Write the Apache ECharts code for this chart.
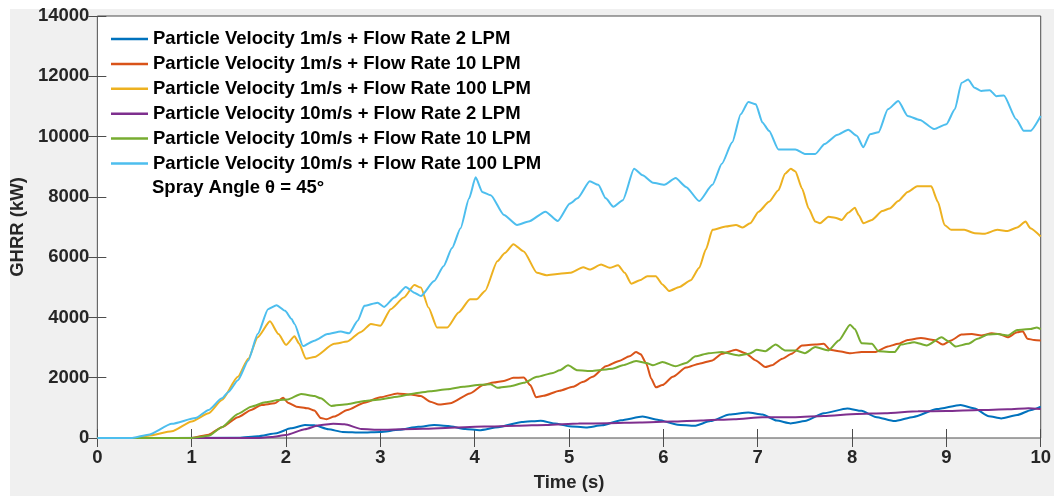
<!DOCTYPE html>
<html>
<head>
<meta charset="utf-8">
<title>GHRR</title>
<script src="https://cdn.jsdelivr.net/npm/echarts@6/dist/echarts.min.js"></script>
<style>
html,body{margin:0;padding:0;background:#fff;}
#chartmain{width:1054px;height:497px;}
</style>
</head>
<body>
<div id="chartmain"></div>
<script>
// 图例名称
var names = [
	'Particle Velocity 1m/s + Flow Rate 2 LPM',
	'Particle Velocity 1m/s + Flow Rate 10 LPM',
	'Particle Velocity 1m/s + Flow Rate 100 LPM',
	'Particle Velocity 10m/s + Flow Rate 2 LPM',
	'Particle Velocity 10m/s + Flow Rate 10 LPM',
	'Particle Velocity 10m/s + Flow Rate 100 LPM'
];
var colors = ['#0072BD','#D95319','#EDB120','#7E2F8E','#77AC30','#4DBEEE'];
var xTicks = [0,1,2,3,4,5,6,7,8,9,10];
var yTicks = [0,2000,4000,6000,8000,10000,12000,14000];

// [时间(s), GHRR(kW)]
var v1f2 = [[0,0],[1.5,5],[1.7,60],[1.9,160],[2.05,320],[2.2,430],[2.3,420],[2.45,290],[2.6,200],[2.8,180],[3.0,200],[3.2,270],[3.4,370],[3.57,430],[3.72,400],[3.9,300],[4.05,260],[4.25,360],[4.5,530],[4.7,575],[4.85,480],[5.0,390],[5.18,350],[5.35,420],[5.55,590],[5.78,710],[5.95,600],[6.15,440],[6.33,405],[6.5,560],[6.7,780],[6.9,845],[7.05,780],[7.2,580],[7.35,485],[7.5,560],[7.7,820],[7.95,980],[8.1,900],[8.25,700],[8.45,560],[8.65,700],[8.9,960],[9.15,1095],[9.3,980],[9.45,720],[9.58,650],[9.75,760],[9.9,930],[10,1040]];
var v1f10 = [[0,0],[1.0,0],[1.18,110],[1.32,360],[1.49,690],[1.63,930],[1.74,1095],[1.88,1150],[1.97,1335],[2.02,1170],[2.11,1040],[2.23,985],[2.3,910],[2.37,660],[2.43,625],[2.51,710],[2.65,930],[2.83,1170],[3.0,1350],[3.18,1480],[3.32,1445],[3.43,1390],[3.53,1205],[3.62,1110],[3.74,1150],[3.95,1480],[4.09,1755],[4.2,1840],[4.31,1895],[4.41,1995],[4.52,2005],[4.59,1755],[4.65,1350],[4.73,1400],[4.9,1570],[5.04,1700],[5.15,1865],[5.25,2030],[5.39,2380],[5.53,2555],[5.64,2710],[5.71,2850],[5.76,2775],[5.82,2465],[5.87,1975],[5.92,1680],[5.99,1755],[6.1,2030],[6.24,2335],[6.38,2465],[6.52,2575],[6.62,2795],[6.77,2925],[6.87,2815],[6.98,2575],[7.08,2355],[7.15,2410],[7.26,2630],[7.36,2795],[7.47,3070],[7.61,3100],[7.7,3125],[7.77,2925],[7.86,2880],[7.98,2815],[8.1,2850],[8.24,2850],[8.38,3035],[8.49,3125],[8.59,3255],[8.73,3320],[8.87,3255],[8.96,3100],[9.05,3235],[9.16,3430],[9.27,3450],[9.37,3400],[9.48,3475],[9.56,3450],[9.65,3340],[9.75,3505],[9.81,3540],[9.86,3290],[9.93,3255],[10,3235]];
var v1f100 = [[0,0],[0.4,0],[0.54,75],[0.79,220],[1.0,550],[1.18,820],[1.32,1260],[1.49,2030],[1.6,2630],[1.7,3340],[1.83,3870],[1.92,3450],[2.0,3090],[2.09,3375],[2.14,3125],[2.21,2630],[2.3,2685],[2.51,3125],[2.65,3200],[2.79,3510],[2.9,3780],[3.0,3725],[3.11,4275],[3.25,4660],[3.36,5075],[3.43,4990],[3.51,4330],[3.6,3670],[3.71,3670],[3.83,4165],[3.95,4600],[4.02,4600],[4.11,4880],[4.24,5865],[4.32,6140],[4.41,6430],[4.52,6190],[4.66,5480],[4.76,5400],[4.9,5450],[5.01,5480],[5.15,5665],[5.22,5590],[5.34,5755],[5.43,5645],[5.52,5730],[5.59,5480],[5.66,5120],[5.75,5230],[5.83,5370],[5.92,5370],[5.99,5095],[6.06,4875],[6.17,5010],[6.29,5230],[6.38,5645],[6.45,6250],[6.52,6905],[6.66,7015],[6.77,7070],[6.84,6980],[6.92,7125],[7.01,7510],[7.12,7835],[7.22,8220],[7.29,8770],[7.35,8930],[7.4,8845],[7.47,8275],[7.54,7615],[7.61,7180],[7.66,7125],[7.75,7340],[7.82,7310],[7.89,7235],[7.96,7475],[8.03,7640],[8.07,7400],[8.12,7125],[8.21,7235],[8.32,7530],[8.4,7615],[8.49,7860],[8.59,8165],[8.69,8350],[8.84,8350],[8.91,7835],[8.98,7070],[9.05,6905],[9.19,6905],[9.3,6795],[9.4,6775],[9.54,6905],[9.65,6870],[9.75,6980],[9.84,7180],[9.89,6960],[10,6685]];
var v10f2 = [[0,0],[1.7,0],[1.85,30],[2.0,100],[2.2,290],[2.35,420],[2.5,470],[2.62,455],[2.8,300],[3.0,270],[3.45,305],[3.8,350],[4.1,380],[4.45,405],[4.76,435],[5.1,480],[5.42,490],[5.75,515],[6.1,545],[6.4,580],[6.75,625],[7.05,690],[7.4,690],[7.7,730],[8.05,800],[8.35,820],[8.7,885],[9.0,895],[9.35,930],[9.65,950],[9.87,985],[10,960]];
var v10f10 = [[0,0],[1.0,0],[1.18,75],[1.32,360],[1.49,800],[1.63,1040],[1.78,1185],[1.92,1260],[2.02,1280],[2.16,1460],[2.3,1390],[2.37,1315],[2.48,1065],[2.65,1120],[2.83,1230],[3.0,1280],[3.18,1370],[3.36,1480],[3.53,1555],[3.71,1620],[3.88,1700],[4.06,1765],[4.17,1785],[4.24,1665],[4.38,1720],[4.52,1830],[4.66,2030],[4.83,2160],[4.9,2245],[4.99,2410],[5.09,2245],[5.25,2225],[5.46,2300],[5.57,2410],[5.71,2555],[5.82,2490],[5.89,2410],[5.99,2520],[6.13,2380],[6.24,2490],[6.34,2710],[6.48,2815],[6.62,2850],[6.8,2740],[6.91,2795],[6.99,2925],[7.08,2880],[7.19,3100],[7.29,2905],[7.4,2905],[7.5,2815],[7.61,3015],[7.75,2905],[7.86,3235],[7.98,3760],[8.03,3615],[8.1,3145],[8.21,3125],[8.28,2880],[8.45,2850],[8.52,3100],[8.66,3180],[8.79,3070],[8.95,3345],[9.02,3210],[9.1,3035],[9.23,3125],[9.33,3290],[9.44,3430],[9.54,3450],[9.65,3400],[9.75,3585],[9.89,3615],[9.96,3670],[10,3615]];
var v10f100 = [[0,0],[0.37,0],[0.54,110],[0.79,470],[1.04,660],[1.18,930],[1.32,1315],[1.39,1530],[1.49,1920],[1.6,2575],[1.7,3450],[1.81,4275],[1.9,4405],[1.99,4220],[2.06,3945],[2.09,3780],[2.18,3050],[2.3,3230],[2.44,3450],[2.58,3530],[2.67,3475],[2.76,3890],[2.83,4385],[2.97,4490],[3.04,4350],[3.15,4660],[3.27,5010],[3.36,4820],[3.43,4710],[3.57,5205],[3.67,5700],[3.76,6300],[3.85,6960],[3.94,7945],[4.01,8650],[4.08,8165],[4.17,8055],[4.31,7400],[4.45,7070],[4.57,7180],[4.75,7510],[4.88,7200],[5.01,7780],[5.09,7950],[5.22,8515],[5.31,8400],[5.39,7950],[5.47,7670],[5.57,7890],[5.69,8930],[5.78,8715],[5.89,8470],[6.01,8400],[6.13,8625],[6.24,8330],[6.38,7860],[6.52,8400],[6.62,9100],[6.73,9810],[6.82,10740],[6.9,11150],[6.98,11070],[7.05,10470],[7.12,10190],[7.22,9570],[7.4,9570],[7.5,9425],[7.61,9425],[7.71,9750],[7.84,10050],[7.96,10225],[8.05,10030],[8.12,9645],[8.19,10080],[8.28,10140],[8.38,10905],[8.49,11180],[8.59,10685],[8.72,10550],[8.87,10250],[9.0,10410],[9.09,10905],[9.16,11780],[9.23,11890],[9.3,11620],[9.37,11510],[9.46,11540],[9.53,11340],[9.61,11365],[9.74,10575],[9.82,10190],[9.89,10190],[10,10685]];
var allData = [v1f2,v1f10,v1f100,v10f2,v10f10,v10f100];

var fontName = '"Liberation Sans", Arial, sans-serif';
var axisColor = '#4d4d4d';

var myChart = echarts.init(document.getElementById('chartmain'));

var series = [];
for(var i=0;i<names.length;i++){
	series.push({
		name:names[i],
		type:'line',
		data:allData[i],
		symbol:'none',
		smooth:0.2,
		smoothMonotone:'x',
		lineStyle:{width:2,color:colors[i]},
		itemStyle:{color:colors[i]},
		z:2+i
	});
}

// 上边/右边只画刻度
function sideAxis(pos, isX){
	return {
		type:'value',
		position:pos,
		min:0,
		max:isX?10:14000,
		interval:isX?1:2000,
		axisLine:{show:false},
		axisTick:{show:true,inside:true,length:9,lineStyle:{color:axisColor,width:1}},
		axisLabel:{show:false},
		splitLine:{show:false}
	};
}

var option = {
	backgroundColor:'#fff',
	animation:false,
	graphic:[
		{type:'rect',shape:{x:10,y:9,width:1044,height:487},style:{fill:'#f0f0f0'},z:-10,silent:true},
		{type:'text',x:152,y:188,style:{text:'Spray Angle θ = 45°',font:'bold 18.5px ' + fontName,fill:'#000',verticalAlign:'middle'},z:100}
	],
	grid:{
		left:95,right:10,top:16,bottom:55,
		show:true,
		backgroundColor:'#fff',
		borderColor:axisColor,
		borderWidth:1
	},
	legend:{
		data:names,
		orient:'vertical',
		left:111,
		top:29,
		padding:0,
		icon:'rect',
		itemWidth:37,
		itemHeight:2.5,
		itemGap:4.9,
		textStyle:{fontSize:18.5,fontWeight:'bold',fontFamily:fontName,color:'#000',lineHeight:20},
		selectedMode:false
	},
	xAxis:[
		{
			type:'value',
			min:xTicks[0],
			max:xTicks[xTicks.length-1],
			interval:1,
			name:'Time (s)',
			nameLocation:'middle',
			nameGap:35,
			nameTextStyle:{fontSize:18.5,fontWeight:'bold',fontFamily:fontName,color:'#262626'},
			axisLine:{show:false},
			axisTick:{show:true,inside:true,length:9,lineStyle:{color:axisColor,width:1}},
			axisLabel:{fontSize:18.5,fontWeight:'bold',fontFamily:fontName,color:'#262626',margin:10},
			splitLine:{show:false}
		},
		sideAxis('top', true)
	],
	yAxis:[
		{
			type:'value',
			min:yTicks[0],
			max:yTicks[yTicks.length-1],
			interval:2000,
			name:'GHRR (kW)',
			nameLocation:'middle',
			nameGap:63,
			nameRotate:90,
			nameTextStyle:{fontSize:18.5,fontWeight:'bold',fontFamily:fontName,color:'#262626'},
			axisLine:{show:false},
			axisTick:{show:true,inside:true,length:9,lineStyle:{color:axisColor,width:1}},
			axisLabel:{fontSize:18.5,fontWeight:'bold',fontFamily:fontName,color:'#262626',margin:8,
				formatter:function(v){return String(v);}},
			splitLine:{show:false}
		},
		sideAxis('right', false)
	],
	series:series
};
myChart.setOption(option);
</script>
</body>
</html>
